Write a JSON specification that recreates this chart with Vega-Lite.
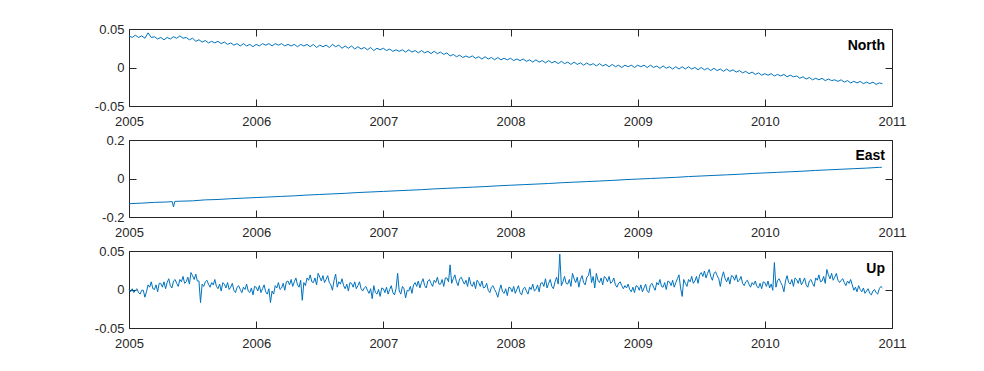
{
  "$schema": "https://vega.github.io/schema/vega-lite/v6.json",
  "background": "white",
  "padding": {"left": 93, "top": 22, "right": 0, "bottom": 0},
  "config": {
    "view": {"stroke": "#262626", "strokeWidth": 1},
    "axis": {"grid": false, "domain": false, "tickColor": "#262626", "tickWidth": 1, "tickSize": 7, "offset": -7, "labelFont": "Liberation Sans", "labelFontSize": 13, "labelColor": "#262626", "labelFlush": false, "labelOverlap": false, "title": null},
    "concat": {"spacing": 34}
  },
  "datasets": {
    "north": [
      {"t":2005.000,"v":0.041},{"t":2005.025,"v":0.039},{"t":2005.050,"v":0.042},{"t":2005.075,"v":0.039},{"t":2005.100,"v":0.041},{"t":2005.125,"v":0.038},{"t":2005.150,"v":0.045},{"t":2005.175,"v":0.039},
      {"t":2005.200,"v":0.040},{"t":2005.225,"v":0.037},{"t":2005.250,"v":0.039},{"t":2005.275,"v":0.036},{"t":2005.300,"v":0.039},{"t":2005.325,"v":0.037},{"t":2005.350,"v":0.040},{"t":2005.375,"v":0.038},
      {"t":2005.400,"v":0.041},{"t":2005.425,"v":0.038},{"t":2005.450,"v":0.039},{"t":2005.475,"v":0.036},{"t":2005.500,"v":0.038},{"t":2005.525,"v":0.034},{"t":2005.550,"v":0.036},{"t":2005.575,"v":0.033},
      {"t":2005.600,"v":0.035},{"t":2005.625,"v":0.032},{"t":2005.650,"v":0.034},{"t":2005.675,"v":0.032},{"t":2005.700,"v":0.034},{"t":2005.725,"v":0.031},{"t":2005.750,"v":0.033},{"t":2005.775,"v":0.030},
      {"t":2005.800,"v":0.032},{"t":2005.825,"v":0.029},{"t":2005.850,"v":0.031},{"t":2005.875,"v":0.028},{"t":2005.900,"v":0.031},{"t":2005.925,"v":0.028},{"t":2005.950,"v":0.030},{"t":2005.975,"v":0.027},
      {"t":2006.000,"v":0.030},{"t":2006.025,"v":0.028},{"t":2006.050,"v":0.031},{"t":2006.075,"v":0.029},{"t":2006.100,"v":0.031},{"t":2006.125,"v":0.028},{"t":2006.150,"v":0.031},{"t":2006.175,"v":0.029},
      {"t":2006.200,"v":0.031},{"t":2006.225,"v":0.028},{"t":2006.250,"v":0.030},{"t":2006.275,"v":0.028},{"t":2006.300,"v":0.030},{"t":2006.325,"v":0.027},{"t":2006.350,"v":0.030},{"t":2006.375,"v":0.028},
      {"t":2006.400,"v":0.030},{"t":2006.425,"v":0.027},{"t":2006.450,"v":0.030},{"t":2006.475,"v":0.026},{"t":2006.500,"v":0.029},{"t":2006.525,"v":0.027},{"t":2006.550,"v":0.029},{"t":2006.575,"v":0.026},
      {"t":2006.600,"v":0.030},{"t":2006.625,"v":0.027},{"t":2006.650,"v":0.029},{"t":2006.675,"v":0.025},{"t":2006.700,"v":0.028},{"t":2006.725,"v":0.025},{"t":2006.750,"v":0.028},{"t":2006.775,"v":0.024},
      {"t":2006.800,"v":0.027},{"t":2006.825,"v":0.024},{"t":2006.850,"v":0.026},{"t":2006.875,"v":0.023},{"t":2006.900,"v":0.026},{"t":2006.925,"v":0.022},{"t":2006.950,"v":0.025},{"t":2006.975,"v":0.023},
      {"t":2007.000,"v":0.025},{"t":2007.025,"v":0.022},{"t":2007.050,"v":0.024},{"t":2007.075,"v":0.021},{"t":2007.100,"v":0.023},{"t":2007.125,"v":0.021},{"t":2007.150,"v":0.023},{"t":2007.175,"v":0.020},
      {"t":2007.200,"v":0.023},{"t":2007.225,"v":0.020},{"t":2007.250,"v":0.022},{"t":2007.275,"v":0.019},{"t":2007.300,"v":0.022},{"t":2007.325,"v":0.019},{"t":2007.350,"v":0.021},{"t":2007.375,"v":0.018},
      {"t":2007.400,"v":0.021},{"t":2007.425,"v":0.018},{"t":2007.450,"v":0.020},{"t":2007.475,"v":0.017},{"t":2007.500,"v":0.019},{"t":2007.525,"v":0.015},{"t":2007.550,"v":0.017},{"t":2007.575,"v":0.014},
      {"t":2007.600,"v":0.016},{"t":2007.625,"v":0.013},{"t":2007.650,"v":0.015},{"t":2007.675,"v":0.013},{"t":2007.700,"v":0.015},{"t":2007.725,"v":0.012},{"t":2007.750,"v":0.014},{"t":2007.775,"v":0.011},
      {"t":2007.800,"v":0.014},{"t":2007.825,"v":0.011},{"t":2007.850,"v":0.013},{"t":2007.875,"v":0.010},{"t":2007.900,"v":0.013},{"t":2007.925,"v":0.010},{"t":2007.950,"v":0.012},{"t":2007.975,"v":0.010},
      {"t":2008.000,"v":0.012},{"t":2008.025,"v":0.009},{"t":2008.050,"v":0.011},{"t":2008.075,"v":0.009},{"t":2008.100,"v":0.011},{"t":2008.125,"v":0.008},{"t":2008.150,"v":0.010},{"t":2008.175,"v":0.007},
      {"t":2008.200,"v":0.010},{"t":2008.225,"v":0.007},{"t":2008.250,"v":0.009},{"t":2008.275,"v":0.006},{"t":2008.300,"v":0.009},{"t":2008.325,"v":0.006},{"t":2008.350,"v":0.008},{"t":2008.375,"v":0.005},
      {"t":2008.400,"v":0.008},{"t":2008.425,"v":0.005},{"t":2008.450,"v":0.007},{"t":2008.475,"v":0.004},{"t":2008.500,"v":0.007},{"t":2008.525,"v":0.004},{"t":2008.550,"v":0.006},{"t":2008.575,"v":0.003},
      {"t":2008.600,"v":0.006},{"t":2008.625,"v":0.003},{"t":2008.650,"v":0.005},{"t":2008.675,"v":0.002},{"t":2008.700,"v":0.005},{"t":2008.725,"v":0.002},{"t":2008.750,"v":0.004},{"t":2008.775,"v":0.001},
      {"t":2008.800,"v":0.004},{"t":2008.825,"v":0.001},{"t":2008.850,"v":0.003},{"t":2008.875,"v":0.000},{"t":2008.900,"v":0.003},{"t":2008.925,"v":0.001},{"t":2008.950,"v":0.003},{"t":2008.975,"v":0.000},
      {"t":2009.000,"v":0.003},{"t":2009.025,"v":0.001},{"t":2009.050,"v":0.003},{"t":2009.075,"v":0.000},{"t":2009.100,"v":0.003},{"t":2009.125,"v":0.000},{"t":2009.150,"v":0.002},{"t":2009.175,"v":-0.001},
      {"t":2009.200,"v":0.002},{"t":2009.225,"v":-0.001},{"t":2009.250,"v":0.001},{"t":2009.275,"v":-0.002},{"t":2009.300,"v":0.001},{"t":2009.325,"v":-0.002},{"t":2009.350,"v":0.001},{"t":2009.375,"v":-0.002},
      {"t":2009.400,"v":0.001},{"t":2009.425,"v":-0.002},{"t":2009.450,"v":0.000},{"t":2009.475,"v":-0.003},{"t":2009.500,"v":0.000},{"t":2009.525,"v":-0.003},{"t":2009.550,"v":-0.001},{"t":2009.575,"v":-0.004},
      {"t":2009.600,"v":-0.001},{"t":2009.625,"v":-0.004},{"t":2009.650,"v":-0.002},{"t":2009.675,"v":-0.005},{"t":2009.700,"v":-0.002},{"t":2009.725,"v":-0.005},{"t":2009.750,"v":-0.003},{"t":2009.775,"v":-0.006},
      {"t":2009.800,"v":-0.004},{"t":2009.825,"v":-0.007},{"t":2009.850,"v":-0.005},{"t":2009.875,"v":-0.008},{"t":2009.900,"v":-0.006},{"t":2009.925,"v":-0.009},{"t":2009.950,"v":-0.007},{"t":2009.975,"v":-0.010},
      {"t":2010.000,"v":-0.008},{"t":2010.025,"v":-0.010},{"t":2010.050,"v":-0.008},{"t":2010.075,"v":-0.011},{"t":2010.100,"v":-0.009},{"t":2010.125,"v":-0.011},{"t":2010.150,"v":-0.009},{"t":2010.175,"v":-0.012},
      {"t":2010.200,"v":-0.010},{"t":2010.225,"v":-0.012},{"t":2010.250,"v":-0.011},{"t":2010.275,"v":-0.014},{"t":2010.300,"v":-0.012},{"t":2010.325,"v":-0.015},{"t":2010.350,"v":-0.013},{"t":2010.375,"v":-0.016},
      {"t":2010.400,"v":-0.014},{"t":2010.425,"v":-0.016},{"t":2010.450,"v":-0.014},{"t":2010.475,"v":-0.017},{"t":2010.500,"v":-0.015},{"t":2010.525,"v":-0.017},{"t":2010.550,"v":-0.016},{"t":2010.575,"v":-0.018},
      {"t":2010.600,"v":-0.016},{"t":2010.625,"v":-0.019},{"t":2010.650,"v":-0.017},{"t":2010.675,"v":-0.020},{"t":2010.700,"v":-0.018},{"t":2010.725,"v":-0.020},{"t":2010.750,"v":-0.018},{"t":2010.775,"v":-0.021},
      {"t":2010.800,"v":-0.019},{"t":2010.825,"v":-0.021},{"t":2010.850,"v":-0.019},{"t":2010.875,"v":-0.022},{"t":2010.900,"v":-0.020},{"t":2010.925,"v":-0.021}
    ],
    "east": [
      {"t":2005.0,"v":-0.131},{"t":2005.1,"v":-0.128},{"t":2005.2,"v":-0.124},{"t":2005.3,"v":-0.122},{"t":2005.34,"v":-0.120},{"t":2005.35,"v":-0.148},{"t":2005.36,"v":-0.119},{"t":2005.4,"v":-0.118},
      {"t":2005.5,"v":-0.116},{"t":2005.6,"v":-0.111},{"t":2005.7,"v":-0.109},{"t":2005.8,"v":-0.105},{"t":2005.9,"v":-0.102},{"t":2006.0,"v":-0.099},{"t":2006.1,"v":-0.096},{"t":2006.2,"v":-0.093},
      {"t":2006.3,"v":-0.090},{"t":2006.4,"v":-0.086},{"t":2006.5,"v":-0.083},{"t":2006.6,"v":-0.080},{"t":2006.7,"v":-0.077},{"t":2006.8,"v":-0.073},{"t":2006.9,"v":-0.070},{"t":2007.0,"v":-0.067},
      {"t":2007.1,"v":-0.064},{"t":2007.2,"v":-0.061},{"t":2007.3,"v":-0.058},{"t":2007.4,"v":-0.054},{"t":2007.5,"v":-0.051},{"t":2007.6,"v":-0.048},{"t":2007.7,"v":-0.045},{"t":2007.8,"v":-0.042},
      {"t":2007.9,"v":-0.038},{"t":2008.0,"v":-0.035},{"t":2008.1,"v":-0.032},{"t":2008.2,"v":-0.029},{"t":2008.3,"v":-0.026},{"t":2008.4,"v":-0.022},{"t":2008.5,"v":-0.019},{"t":2008.6,"v":-0.016},
      {"t":2008.7,"v":-0.013},{"t":2008.8,"v":-0.010},{"t":2008.9,"v":-0.006},{"t":2009.0,"v":-0.003},{"t":2009.1,"v":0.000},{"t":2009.2,"v":0.003},{"t":2009.3,"v":0.006},{"t":2009.4,"v":0.010},
      {"t":2009.5,"v":0.013},{"t":2009.6,"v":0.016},{"t":2009.7,"v":0.019},{"t":2009.8,"v":0.022},{"t":2009.9,"v":0.026},{"t":2010.0,"v":0.029},{"t":2010.1,"v":0.032},{"t":2010.2,"v":0.035},
      {"t":2010.3,"v":0.038},{"t":2010.4,"v":0.042},{"t":2010.5,"v":0.045},{"t":2010.6,"v":0.048},{"t":2010.7,"v":0.051},{"t":2010.8,"v":0.054},{"t":2010.9,"v":0.058},{"t":2010.92,"v":0.058}
    ],
    "up": [
      {"t":2005.0000,"v":0.000},{"t":2005.0125,"v":-0.003},{"t":2005.0250,"v":0.001},{"t":2005.0375,"v":-0.004},{"t":2005.0500,"v":-0.001},{"t":2005.0625,"v":0.001},{"t":2005.0750,"v":-0.004},{"t":2005.0875,"v":-0.006},
      {"t":2005.1000,"v":-0.001},{"t":2005.1125,"v":-0.001},{"t":2005.1250,"v":-0.010},{"t":2005.1375,"v":-0.003},{"t":2005.1500,"v":0.006},{"t":2005.1625,"v":0.003},{"t":2005.1750,"v":0.010},{"t":2005.1875,"v":0.001},
      {"t":2005.2000,"v":0.000},{"t":2005.2125,"v":0.006},{"t":2005.2250,"v":-0.003},{"t":2005.2375,"v":0.008},{"t":2005.2500,"v":0.008},{"t":2005.2625,"v":0.003},{"t":2005.2750,"v":0.010},{"t":2005.2875,"v":0.001},
      {"t":2005.3000,"v":0.009},{"t":2005.3125,"v":0.014},{"t":2005.3250,"v":0.005},{"t":2005.3375,"v":0.002},{"t":2005.3500,"v":0.011},{"t":2005.3625,"v":0.013},{"t":2005.3750,"v":0.008},{"t":2005.3875,"v":0.004},
      {"t":2005.4000,"v":0.013},{"t":2005.4125,"v":0.010},{"t":2005.4250,"v":0.017},{"t":2005.4375,"v":0.008},{"t":2005.4500,"v":0.010},{"t":2005.4625,"v":0.016},{"t":2005.4750,"v":0.007},{"t":2005.4875,"v":0.022},
      {"t":2005.5000,"v":0.018},{"t":2005.5125,"v":0.013},{"t":2005.5250,"v":0.020},{"t":2005.5375,"v":0.011},{"t":2005.5500,"v":0.011},{"t":2005.5625,"v":-0.017},{"t":2005.5750,"v":0.007},{"t":2005.5875,"v":0.004},
      {"t":2005.6000,"v":0.010},{"t":2005.6125,"v":0.012},{"t":2005.6250,"v":0.007},{"t":2005.6375,"v":0.003},{"t":2005.6500,"v":0.009},{"t":2005.6625,"v":0.006},{"t":2005.6750,"v":0.013},{"t":2005.6875,"v":0.004},
      {"t":2005.7000,"v":0.001},{"t":2005.7125,"v":0.007},{"t":2005.7250,"v":-0.002},{"t":2005.7375,"v":0.009},{"t":2005.7500,"v":0.007},{"t":2005.7625,"v":0.002},{"t":2005.7750,"v":0.009},{"t":2005.7875,"v":0.000},
      {"t":2005.8000,"v":0.003},{"t":2005.8125,"v":0.008},{"t":2005.8250,"v":-0.001},{"t":2005.8375,"v":-0.004},{"t":2005.8500,"v":0.003},{"t":2005.8625,"v":0.005},{"t":2005.8750,"v":0.000},{"t":2005.8875,"v":-0.004},
      {"t":2005.9000,"v":0.003},{"t":2005.9125,"v":0.000},{"t":2005.9250,"v":0.007},{"t":2005.9375,"v":-0.002},{"t":2005.9500,"v":-0.004},{"t":2005.9625,"v":0.002},{"t":2005.9750,"v":-0.007},{"t":2005.9875,"v":0.004},
      {"t":2006.0000,"v":0.003},{"t":2006.0125,"v":-0.002},{"t":2006.0250,"v":0.005},{"t":2006.0375,"v":-0.004},{"t":2006.0500,"v":0.001},{"t":2006.0625,"v":0.006},{"t":2006.0750,"v":-0.003},{"t":2006.0875,"v":-0.006},
      {"t":2006.1000,"v":0.001},{"t":2006.1125,"v":-0.017},{"t":2006.1250,"v":-0.002},{"t":2006.1375,"v":-0.006},{"t":2006.1500,"v":0.005},{"t":2006.1625,"v":0.002},{"t":2006.1750,"v":0.009},{"t":2006.1875,"v":0.000},
      {"t":2006.2000,"v":0.002},{"t":2006.2125,"v":0.008},{"t":2006.2250,"v":-0.001},{"t":2006.2375,"v":0.010},{"t":2006.2500,"v":0.011},{"t":2006.2625,"v":0.006},{"t":2006.2750,"v":0.013},{"t":2006.2875,"v":0.004},
      {"t":2006.3000,"v":0.010},{"t":2006.3125,"v":0.015},{"t":2006.3250,"v":0.006},{"t":2006.3375,"v":0.003},{"t":2006.3500,"v":0.012},{"t":2006.3625,"v":-0.014},{"t":2006.3750,"v":0.009},{"t":2006.3875,"v":0.005},
      {"t":2006.4000,"v":0.015},{"t":2006.4125,"v":0.012},{"t":2006.4250,"v":0.019},{"t":2006.4375,"v":0.010},{"t":2006.4500,"v":0.009},{"t":2006.4625,"v":0.015},{"t":2006.4750,"v":0.006},{"t":2006.4875,"v":0.021},
      {"t":2006.5000,"v":0.016},{"t":2006.5125,"v":0.011},{"t":2006.5250,"v":0.018},{"t":2006.5375,"v":0.009},{"t":2006.5500,"v":0.013},{"t":2006.5625,"v":0.018},{"t":2006.5750,"v":0.009},{"t":2006.5875,"v":0.006},
      {"t":2006.6000,"v":-0.001},{"t":2006.6125,"v":0.012},{"t":2006.6250,"v":0.020},{"t":2006.6375,"v":0.003},{"t":2006.6500,"v":0.010},{"t":2006.6625,"v":0.007},{"t":2006.6750,"v":0.014},{"t":2006.6875,"v":0.005},
      {"t":2006.7000,"v":0.001},{"t":2006.7125,"v":0.007},{"t":2006.7250,"v":-0.002},{"t":2006.7375,"v":0.009},{"t":2006.7500,"v":0.008},{"t":2006.7625,"v":0.003},{"t":2006.7750,"v":0.010},{"t":2006.7875,"v":0.001},
      {"t":2006.8000,"v":0.005},{"t":2006.8125,"v":0.010},{"t":2006.8250,"v":0.001},{"t":2006.8375,"v":-0.002},{"t":2006.8500,"v":0.002},{"t":2006.8625,"v":0.004},{"t":2006.8750,"v":-0.001},{"t":2006.8875,"v":-0.005},
      {"t":2006.9000,"v":0.001},{"t":2006.9125,"v":-0.012},{"t":2006.9250,"v":0.005},{"t":2006.9375,"v":-0.004},{"t":2006.9500,"v":-0.006},{"t":2006.9625,"v":0.000},{"t":2006.9750,"v":-0.009},{"t":2006.9875,"v":0.002},
      {"t":2007.0000,"v":0.001},{"t":2007.0125,"v":-0.004},{"t":2007.0250,"v":0.003},{"t":2007.0375,"v":-0.006},{"t":2007.0500,"v":0.000},{"t":2007.0625,"v":0.005},{"t":2007.0750,"v":-0.004},{"t":2007.0875,"v":-0.007},
      {"t":2007.1000,"v":0.001},{"t":2007.1125,"v":0.021},{"t":2007.1250,"v":-0.002},{"t":2007.1375,"v":-0.006},{"t":2007.1500,"v":0.004},{"t":2007.1625,"v":0.001},{"t":2007.1750,"v":-0.011},{"t":2007.1875,"v":-0.001},
      {"t":2007.2000,"v":-0.002},{"t":2007.2125,"v":0.004},{"t":2007.2250,"v":-0.005},{"t":2007.2375,"v":0.006},{"t":2007.2500,"v":0.009},{"t":2007.2625,"v":0.004},{"t":2007.2750,"v":0.011},{"t":2007.2875,"v":0.002},
      {"t":2007.3000,"v":0.009},{"t":2007.3125,"v":0.014},{"t":2007.3250,"v":0.005},{"t":2007.3375,"v":0.002},{"t":2007.3500,"v":0.011},{"t":2007.3625,"v":0.013},{"t":2007.3750,"v":0.008},{"t":2007.3875,"v":0.004},
      {"t":2007.4000,"v":0.012},{"t":2007.4125,"v":0.009},{"t":2007.4250,"v":0.016},{"t":2007.4375,"v":0.007},{"t":2007.4500,"v":0.007},{"t":2007.4625,"v":0.013},{"t":2007.4750,"v":0.004},{"t":2007.4875,"v":0.015},
      {"t":2007.5000,"v":0.015},{"t":2007.5125,"v":0.010},{"t":2007.5250,"v":0.032},{"t":2007.5375,"v":0.008},{"t":2007.5500,"v":0.014},{"t":2007.5625,"v":0.019},{"t":2007.5750,"v":0.010},{"t":2007.5875,"v":0.005},
      {"t":2007.6000,"v":0.014},{"t":2007.6125,"v":0.016},{"t":2007.6250,"v":0.011},{"t":2007.6375,"v":0.007},{"t":2007.6500,"v":0.012},{"t":2007.6625,"v":0.004},{"t":2007.6750,"v":0.016},{"t":2007.6875,"v":0.007},
      {"t":2007.7000,"v":0.004},{"t":2007.7125,"v":0.010},{"t":2007.7250,"v":0.001},{"t":2007.7375,"v":0.012},{"t":2007.7500,"v":0.009},{"t":2007.7625,"v":0.004},{"t":2007.7750,"v":0.011},{"t":2007.7875,"v":0.002},
      {"t":2007.8000,"v":0.003},{"t":2007.8125,"v":0.008},{"t":2007.8250,"v":-0.001},{"t":2007.8375,"v":-0.004},{"t":2007.8500,"v":0.003},{"t":2007.8625,"v":0.005},{"t":2007.8750,"v":0.000},{"t":2007.8875,"v":-0.004},
      {"t":2007.9000,"v":-0.010},{"t":2007.9125,"v":-0.001},{"t":2007.9250,"v":0.006},{"t":2007.9375,"v":-0.003},{"t":2007.9500,"v":-0.005},{"t":2007.9625,"v":0.001},{"t":2007.9750,"v":-0.008},{"t":2007.9875,"v":0.003},
      {"t":2008.0000,"v":0.002},{"t":2008.0125,"v":-0.003},{"t":2008.0250,"v":0.004},{"t":2008.0375,"v":-0.005},{"t":2008.0500,"v":0.000},{"t":2008.0625,"v":0.005},{"t":2008.0750,"v":-0.004},{"t":2008.0875,"v":-0.007},
      {"t":2008.1000,"v":0.001},{"t":2008.1125,"v":0.003},{"t":2008.1250,"v":-0.002},{"t":2008.1375,"v":-0.006},{"t":2008.1500,"v":0.003},{"t":2008.1625,"v":0.000},{"t":2008.1750,"v":0.007},{"t":2008.1875,"v":-0.002},
      {"t":2008.2000,"v":0.000},{"t":2008.2125,"v":0.006},{"t":2008.2250,"v":-0.003},{"t":2008.2375,"v":0.008},{"t":2008.2500,"v":0.009},{"t":2008.2625,"v":0.004},{"t":2008.2750,"v":0.014},{"t":2008.2875,"v":0.002},
      {"t":2008.3000,"v":0.008},{"t":2008.3125,"v":0.013},{"t":2008.3250,"v":0.004},{"t":2008.3375,"v":0.001},{"t":2008.3500,"v":0.010},{"t":2008.3625,"v":0.016},{"t":2008.3750,"v":0.007},{"t":2008.3875,"v":0.046},
      {"t":2008.4000,"v":0.005},{"t":2008.4125,"v":0.010},{"t":2008.4250,"v":0.017},{"t":2008.4375,"v":0.008},{"t":2008.4500,"v":0.007},{"t":2008.4625,"v":0.013},{"t":2008.4750,"v":0.004},{"t":2008.4875,"v":0.021},
      {"t":2008.5000,"v":0.014},{"t":2008.5125,"v":0.009},{"t":2008.5250,"v":0.016},{"t":2008.5375,"v":0.003},{"t":2008.5500,"v":0.013},{"t":2008.5625,"v":0.018},{"t":2008.5750,"v":0.009},{"t":2008.5875,"v":0.006},
      {"t":2008.6000,"v":0.016},{"t":2008.6125,"v":0.018},{"t":2008.6250,"v":0.027},{"t":2008.6375,"v":0.009},{"t":2008.6500,"v":0.017},{"t":2008.6625,"v":0.002},{"t":2008.6750,"v":0.021},{"t":2008.6875,"v":0.012},
      {"t":2008.7000,"v":0.009},{"t":2008.7125,"v":0.015},{"t":2008.7250,"v":0.006},{"t":2008.7375,"v":0.017},{"t":2008.7500,"v":0.015},{"t":2008.7625,"v":0.010},{"t":2008.7750,"v":0.017},{"t":2008.7875,"v":0.008},
      {"t":2008.8000,"v":0.010},{"t":2008.8125,"v":0.015},{"t":2008.8250,"v":0.006},{"t":2008.8375,"v":0.003},{"t":2008.8500,"v":0.008},{"t":2008.8625,"v":0.010},{"t":2008.8750,"v":0.005},{"t":2008.8875,"v":0.001},
      {"t":2008.9000,"v":0.005},{"t":2008.9125,"v":0.002},{"t":2008.9250,"v":0.007},{"t":2008.9375,"v":0.000},{"t":2008.9500,"v":-0.003},{"t":2008.9625,"v":0.003},{"t":2008.9750,"v":-0.004},{"t":2008.9875,"v":0.005},
      {"t":2009.0000,"v":0.004},{"t":2009.0125,"v":-0.001},{"t":2009.0250,"v":0.006},{"t":2009.0375,"v":-0.003},{"t":2009.0500,"v":0.002},{"t":2009.0625,"v":0.007},{"t":2009.0750,"v":-0.002},{"t":2009.0875,"v":-0.004},
      {"t":2009.1000,"v":0.006},{"t":2009.1125,"v":0.008},{"t":2009.1250,"v":0.003},{"t":2009.1375,"v":-0.001},{"t":2009.1500,"v":0.009},{"t":2009.1625,"v":0.006},{"t":2009.1750,"v":0.013},{"t":2009.1875,"v":0.004},
      {"t":2009.2000,"v":0.003},{"t":2009.2125,"v":0.009},{"t":2009.2250,"v":0.000},{"t":2009.2375,"v":0.011},{"t":2009.2500,"v":0.010},{"t":2009.2625,"v":0.005},{"t":2009.2750,"v":0.012},{"t":2009.2875,"v":0.003},
      {"t":2009.3000,"v":0.009},{"t":2009.3125,"v":0.014},{"t":2009.3250,"v":0.019},{"t":2009.3375,"v":0.002},{"t":2009.3500,"v":-0.009},{"t":2009.3625,"v":0.013},{"t":2009.3750,"v":0.008},{"t":2009.3875,"v":0.004},
      {"t":2009.4000,"v":0.013},{"t":2009.4125,"v":0.010},{"t":2009.4250,"v":0.017},{"t":2009.4375,"v":0.008},{"t":2009.4500,"v":0.011},{"t":2009.4625,"v":0.017},{"t":2009.4750,"v":0.008},{"t":2009.4875,"v":0.019},
      {"t":2009.5000,"v":0.022},{"t":2009.5125,"v":0.017},{"t":2009.5250,"v":0.024},{"t":2009.5375,"v":0.015},{"t":2009.5500,"v":0.021},{"t":2009.5625,"v":0.026},{"t":2009.5750,"v":0.017},{"t":2009.5875,"v":0.012},
      {"t":2009.6000,"v":0.021},{"t":2009.6125,"v":0.023},{"t":2009.6250,"v":0.018},{"t":2009.6375,"v":0.014},{"t":2009.6500,"v":0.004},{"t":2009.6625,"v":0.016},{"t":2009.6750,"v":0.023},{"t":2009.6875,"v":0.014},
      {"t":2009.7000,"v":0.010},{"t":2009.7125,"v":0.016},{"t":2009.7250,"v":0.007},{"t":2009.7375,"v":0.018},{"t":2009.7500,"v":0.017},{"t":2009.7625,"v":0.012},{"t":2009.7750,"v":0.019},{"t":2009.7875,"v":0.010},
      {"t":2009.8000,"v":0.012},{"t":2009.8125,"v":0.017},{"t":2009.8250,"v":0.008},{"t":2009.8375,"v":0.005},{"t":2009.8500,"v":0.010},{"t":2009.8625,"v":0.012},{"t":2009.8750,"v":0.007},{"t":2009.8875,"v":0.003},
      {"t":2009.9000,"v":0.009},{"t":2009.9125,"v":0.006},{"t":2009.9250,"v":0.011},{"t":2009.9375,"v":0.004},{"t":2009.9500,"v":0.002},{"t":2009.9625,"v":0.008},{"t":2009.9750,"v":0.001},{"t":2009.9875,"v":0.010},
      {"t":2010.0000,"v":0.009},{"t":2010.0125,"v":0.004},{"t":2010.0250,"v":0.011},{"t":2010.0375,"v":0.002},{"t":2010.0500,"v":0.007},{"t":2010.0625,"v":-0.001},{"t":2010.0750,"v":0.035},{"t":2010.0875,"v":0.003},
      {"t":2010.1000,"v":0.012},{"t":2010.1125,"v":0.014},{"t":2010.1250,"v":0.009},{"t":2010.1375,"v":0.005},{"t":2010.1500,"v":-0.003},{"t":2010.1625,"v":0.011},{"t":2010.1750,"v":0.018},{"t":2010.1875,"v":0.009},
      {"t":2010.2000,"v":0.007},{"t":2010.2125,"v":0.013},{"t":2010.2250,"v":0.004},{"t":2010.2375,"v":0.015},{"t":2010.2500,"v":0.013},{"t":2010.2625,"v":0.008},{"t":2010.2750,"v":0.015},{"t":2010.2875,"v":0.006},
      {"t":2010.3000,"v":0.010},{"t":2010.3125,"v":0.015},{"t":2010.3250,"v":0.006},{"t":2010.3375,"v":0.003},{"t":2010.3500,"v":0.011},{"t":2010.3625,"v":0.013},{"t":2010.3750,"v":0.008},{"t":2010.3875,"v":0.004},
      {"t":2010.4000,"v":0.015},{"t":2010.4125,"v":0.012},{"t":2010.4250,"v":0.019},{"t":2010.4375,"v":0.010},{"t":2010.4500,"v":0.011},{"t":2010.4625,"v":0.017},{"t":2010.4750,"v":0.008},{"t":2010.4875,"v":0.026},
      {"t":2010.5000,"v":0.019},{"t":2010.5125,"v":0.014},{"t":2010.5250,"v":0.021},{"t":2010.5375,"v":0.012},{"t":2010.5500,"v":0.016},{"t":2010.5625,"v":0.021},{"t":2010.5750,"v":0.012},{"t":2010.5875,"v":0.009},
      {"t":2010.6000,"v":0.012},{"t":2010.6125,"v":0.014},{"t":2010.6250,"v":0.009},{"t":2010.6375,"v":0.005},{"t":2010.6500,"v":0.011},{"t":2010.6625,"v":0.008},{"t":2010.6750,"v":0.013},{"t":2010.6875,"v":0.006},
      {"t":2010.7000,"v":-0.001},{"t":2010.7125,"v":0.003},{"t":2010.7250,"v":-0.003},{"t":2010.7375,"v":0.005},{"t":2010.7500,"v":0.000},{"t":2010.7625,"v":-0.003},{"t":2010.7750,"v":0.002},{"t":2010.7875,"v":-0.005},
      {"t":2010.8000,"v":-0.002},{"t":2010.8125,"v":0.001},{"t":2010.8250,"v":-0.005},{"t":2010.8375,"v":-0.007},{"t":2010.8500,"v":-0.002},{"t":2010.8625,"v":0.000},{"t":2010.8750,"v":-0.004},{"t":2010.8875,"v":-0.006},
      {"t":2010.9000,"v":0.001},{"t":2010.9125,"v":0.004},{"t":2010.9250,"v":0.002}
    ]
  },
  "vconcat": [
    {
      "width": 763, "height": 77,
      "layer": [
        {
          "data": {"name": "north"},
          "mark": {"type": "line", "color": "#0072BD", "strokeWidth": 1},
          "encoding": {
            "x": {"field": "t", "type": "quantitative", "scale": {"domain": [2005, 2011], "nice": false, "zero": false}, "axis": {"orient": "bottom", "values": [2005, 2006, 2007, 2008, 2009, 2010, 2011], "format": "d", "labelPadding": 9}},
            "y": {"field": "v", "type": "quantitative", "scale": {"domain": [-0.05, 0.05], "nice": false, "zero": false}, "axis": {"orient": "left", "values": [-0.05, 0, 0.05], "labelExpr": "replace(format(datum.value, '~g'), '−', '-')", "labelPadding": 5}}
          }
        },
        {
          "data": {"values": [{}]},
          "mark": {"type": "text", "align": "right", "baseline": "middle", "font": "Liberation Sans", "fontSize": 14, "fontWeight": "bold", "color": "#000000"},
          "encoding": {
            "x": {"datum": 2010.945, "type": "quantitative", "axis": {"orient": "top", "labels": false, "values": [2005, 2006, 2007, 2008, 2009, 2010, 2011]}},
            "y": {"datum": 0.028, "type": "quantitative", "axis": {"orient": "right", "labels": false, "values": [-0.05, 0, 0.05]}},
            "text": {"value": "North"}
          }
        }
      ]
    },
    {
      "width": 763, "height": 77,
      "layer": [
        {
          "data": {"name": "east"},
          "mark": {"type": "line", "color": "#0072BD", "strokeWidth": 1},
          "encoding": {
            "x": {"field": "t", "type": "quantitative", "scale": {"domain": [2005, 2011], "nice": false, "zero": false}, "axis": {"orient": "bottom", "values": [2005, 2006, 2007, 2008, 2009, 2010, 2011], "format": "d", "labelPadding": 9}},
            "y": {"field": "v", "type": "quantitative", "scale": {"domain": [-0.2, 0.2], "nice": false, "zero": false}, "axis": {"orient": "left", "values": [-0.2, 0, 0.2], "labelExpr": "replace(format(datum.value, '~g'), '−', '-')", "labelPadding": 5}}
          }
        },
        {
          "data": {"values": [{}]},
          "mark": {"type": "text", "align": "right", "baseline": "middle", "font": "Liberation Sans", "fontSize": 14, "fontWeight": "bold", "color": "#000000"},
          "encoding": {
            "x": {"datum": 2010.945, "type": "quantitative", "axis": {"orient": "top", "labels": false, "values": [2005, 2006, 2007, 2008, 2009, 2010, 2011]}},
            "y": {"datum": 0.117, "type": "quantitative", "axis": {"orient": "right", "labels": false, "values": [-0.2, 0, 0.2]}},
            "text": {"value": "East"}
          }
        }
      ]
    },
    {
      "width": 763, "height": 77,
      "layer": [
        {
          "data": {"name": "up"},
          "mark": {"type": "line", "color": "#0072BD", "strokeWidth": 1},
          "encoding": {
            "x": {"field": "t", "type": "quantitative", "scale": {"domain": [2005, 2011], "nice": false, "zero": false}, "axis": {"orient": "bottom", "values": [2005, 2006, 2007, 2008, 2009, 2010, 2011], "format": "d", "labelPadding": 9}},
            "y": {"field": "v", "type": "quantitative", "scale": {"domain": [-0.05, 0.05], "nice": false, "zero": false}, "axis": {"orient": "left", "values": [-0.05, 0, 0.05], "labelExpr": "replace(format(datum.value, '~g'), '−', '-')", "labelPadding": 5}}
          }
        },
        {
          "data": {"values": [{}]},
          "mark": {"type": "text", "align": "right", "baseline": "middle", "font": "Liberation Sans", "fontSize": 14, "fontWeight": "bold", "color": "#000000"},
          "encoding": {
            "x": {"datum": 2010.945, "type": "quantitative", "axis": {"orient": "top", "labels": false, "values": [2005, 2006, 2007, 2008, 2009, 2010, 2011]}},
            "y": {"datum": 0.0266, "type": "quantitative", "axis": {"orient": "right", "labels": false, "values": [-0.05, 0, 0.05]}},
            "text": {"value": "Up"}
          }
        }
      ]
    }
  ],
  "spacing": 34,
  "bounds": "flush"
}
